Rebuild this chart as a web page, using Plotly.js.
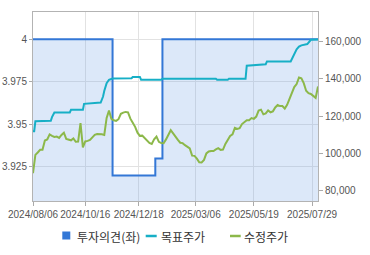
<!DOCTYPE html>
<html>
<head>
<meta charset="utf-8">
<script src="https://cdn.plot.ly/plotly-3.0.1.min.js"></script>
<style>
html,body{margin:0;padding:0;background:#fff;}
#chart{width:370px;height:255px;}
</style>
</head>
<body>
<div id="chart"></div>
<script>
// KRX market holidays inside the period (no trading)
const holidays = ['2024-08-15','2024-09-16','2024-09-17','2024-09-18','2024-10-01','2024-10-03','2024-10-09',
  '2024-12-25','2024-12-31','2025-01-01','2025-01-27','2025-01-28','2025-01-29','2025-01-30','2025-03-03',
  '2025-05-01','2025-05-05','2025-05-06','2025-06-03','2025-06-06'];
const startDate = '2024-08-06';
const endDate = '2025-08-05';

// series names
const seriesNames = ['투자의견(좌)', '목표주가', '수정주가'];

// 투자의견(좌) – consensus rating (step)
const opinionDates = ['2024-08-06','2024-11-18','2025-01-10','2025-01-20','2025-08-05'];
const opinionVals  = [4, 3.92, 3.93, 4, 4];

// 목표주가 – target price
const targetDates = ['2024-08-06','2024-08-07','2024-08-08','2024-08-28','2024-08-29','2024-08-30','2024-09-02',
  '2024-09-24','2024-09-25','2024-10-14','2024-10-15','2024-11-04','2024-11-06','2024-11-07','2024-11-11',
  '2024-11-13','2024-11-18','2024-12-10','2024-12-11','2024-12-19','2024-12-20','2025-01-17','2025-01-20',
  '2025-03-31','2025-04-01','2025-04-14','2025-04-15','2025-05-08','2025-05-09','2025-06-02','2025-06-04',
  '2025-07-03','2025-07-08','2025-07-10','2025-07-14','2025-07-16','2025-07-23','2025-07-25','2025-07-28','2025-08-05'];
const targetVals = [112000,112000,117300,117600,119500,121000,122000,
  122000,123400,123400,126600,127300,130500,133500,137700,
  139500,140200,140300,141000,141000,139500,139500,140000,
  140000,139500,139500,140000,140000,147000,147800,149300,
  149300,153000,155800,157200,157900,158600,160000,160900,161000];

// 수정주가 – adjusted close, every 2nd trading day from 2024-08-06
const priceVals = [
  89500,99300,100600,102000,102000,107000,107600,110300,109500,108900,
  109100,108400,110000,111200,107900,107300,107100,108100,106300,106400,
  116300,103300,106500,106800,107300,108700,110000,110500,110500,110300,
  110000,119100,123000,118600,117800,117500,118400,121300,121900,122300,
  122100,118700,116500,114300,111200,109500,109600,108200,106900,105700,
  105200,107600,109100,106300,105600,105500,107600,110500,112500,110800,
  108700,107300,105800,105600,104500,103700,102800,98900,98800,97300,
  95400,95300,96600,100100,101100,101400,101400,102200,102900,102000,
  102100,105200,107300,109400,110300,113800,113200,113600,115800,117000,
  117900,117900,119000,118600,119800,123000,123500,121000,121500,123100,
  122100,122600,124700,126000,125400,125400,124100,126100,129600,132700,
  135600,137200,140700,140300,137700,133600,132300,131900,130600,129800,
  135900];

const xTickVals = ['2024-08-06','2024-10-16','2024-12-18','2025-03-06','2025-05-19','2025-07-29'];
const xTickText = ['2024/08/06','2024/10/16','2024/12/18','2025/03/06','2025/05/19','2025/07/29'];
const leftTicks = [3.925, 3.95, 3.975, 4];
const leftTickText = ['3.925','3.95','3.975','4'];
const rightTicks = [80000,100000,120000,140000,160000];

// trading-day calendar
function tradingDays(a, b){
  const out = [];
  const d = new Date(a + 'T00:00:00Z'), e = new Date(b + 'T00:00:00Z');
  while (d <= e){
    const s = d.toISOString().slice(0,10), w = d.getUTCDay();
    if (w !== 0 && w !== 6 && holidays.indexOf(s) < 0) out.push(s);
    d.setUTCDate(d.getUTCDate() + 1);
  }
  return out;
}
const days = tradingDays(startDate, endDate);
const priceDates = days.filter((_, i) => i % 2 === 0).slice(0, priceVals.length);

const BLUE = '#3377d6', CYAN = '#17afc6', GREEN = '#8cb84a';
const COLORS = [BLUE, CYAN, GREEN];
const tickFont = {family:'Liberation Sans, Arial, sans-serif', size:10, color:'#555'};

const traces = [
  {x: opinionDates, y: opinionVals, type:'scatter', mode:'lines', line:{shape:'hv', color:BLUE, width:2},
   fill:'tozeroy', fillcolor:'rgba(110,160,232,0.24)', yaxis:'y', name:seriesNames[0], hoverinfo:'skip'},
  {x: targetDates, y: targetVals, type:'scatter', mode:'lines', line:{color:CYAN, width:2},
   yaxis:'y2', name:seriesNames[1]},
  {x: priceDates, y: priceVals, type:'scatter', mode:'lines', line:{color:GREEN, width:2},
   yaxis:'y2', name:seriesNames[2]}
];

// custom legend below the plot (paper coordinates)
const L = 33, W = 285, T = 12, H = 189;
const px = v => (v - L) / W, py = v => (T + H - v) / H;
const legendY = 236;
const shapes = [
  {type:'rect', xref:'paper', yref:'paper', x0:px(62.3), x1:px(70.3), y0:py(239.5), y1:py(231.5),
   fillcolor:COLORS[0], line:{width:0}},
  {type:'line', xref:'paper', yref:'paper', x0:px(145.7), x1:px(156.7), y0:py(legendY), y1:py(legendY),
   line:{color:COLORS[1], width:2.5}},
  {type:'line', xref:'paper', yref:'paper', x0:px(230), x1:px(240.7), y0:py(legendY), y1:py(legendY),
   line:{color:COLORS[2], width:2.5}}
];
const legendTextX = [76.7, 161, 244];
const annotations = seriesNames.map((n, i) => ({
  text:n, xref:'paper', yref:'paper', x:px(legendTextX[i] - 2), y:py(legendY), xanchor:'left', yanchor:'middle',
  showarrow:false, font:{family:'"Noto Sans CJK KR", sans-serif', size:12, color:'#333'}
}));

const layout = {
  width:370, height:255,
  margin:{l:L, r:370 - L - W, t:T, b:255 - T - H, autoexpand:false},
  paper_bgcolor:'#fff', plot_bgcolor:'#fff',
  showlegend:false,
  shapes: shapes, annotations: annotations,
  xaxis:{type:'date', range:[startDate, endDate], automargin:false, tickangle:0,
    rangebreaks:[{bounds:['sat','mon']}, {values: holidays}],
    tickvals: xTickVals, ticktext: xTickText, tickfont: tickFont,
    ticks:'outside', ticklen:4, tickcolor:'#aaa',
    showgrid:true, gridcolor:'#e2e2e2', gridwidth:1,
    showline:true, linecolor:'#b3b3b3', linewidth:1, mirror:true, zeroline:false, fixedrange:true},
  yaxis:{range:[3.905, 4.016], tickvals:leftTicks, ticktext:leftTickText, tickfont:tickFont, automargin:false,
    ticks:'outside', ticklen:3, tickcolor:'#aaa',
    showgrid:true, gridcolor:'#e2e2e2', gridwidth:1,
    showline:true, linecolor:'#b3b3b3', linewidth:1, mirror:true, zeroline:false, fixedrange:true},
  yaxis2:{overlaying:'y', side:'right', range:[74640, 175750], tickvals:rightTicks, tickformat:',d', automargin:false,
    tickfont:tickFont, ticks:'outside', ticklen:4, tickcolor:'#aaa',
    showgrid:false, showline:false, zeroline:false, fixedrange:true}
};
Plotly.newPlot('chart', traces, layout, {displayModeBar:false, staticPlot:true});
</script>
</body>
</html>
